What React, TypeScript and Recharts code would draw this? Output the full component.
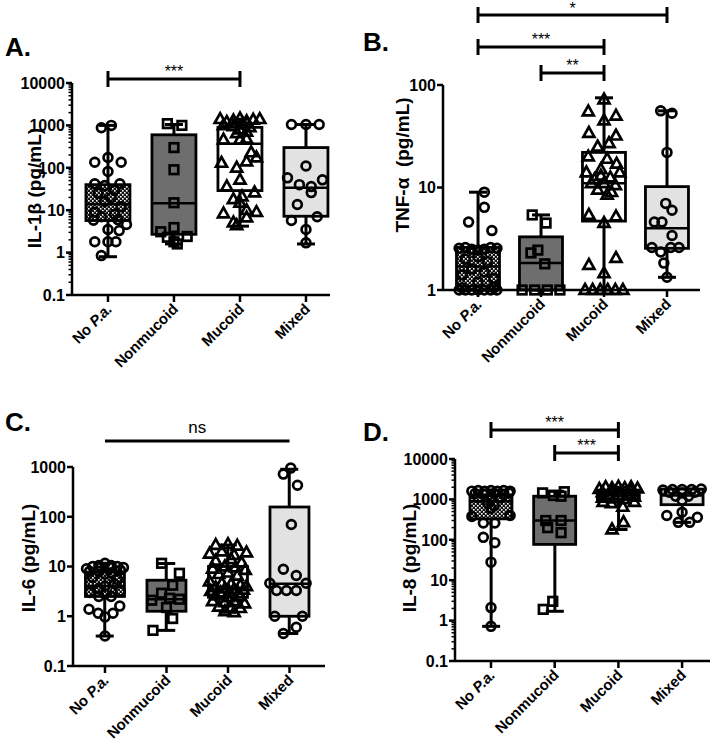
import React from 'react';
import { ComposedChart, Bar, Scatter, XAxis, YAxis, ReferenceLine } from 'recharts';

const FONT = '"Liberation Sans", Arial, Helvetica, sans-serif';

const groups = ['No P.a.', 'Nonmucoid', 'Mucoid', 'Mixed'];

// A. IL-1β (pg/mL)
const il1bMin = [0.8, 1.6, 4.2, 1.6];
const il1bQ1 = [5.7, 2.7, 29, 7.2];
const il1bMedian = [14, 14.5, 370, 34];
const il1bQ3 = [40, 600, 900, 300];
const il1bMax = [1000, 1050, 1400, 1050];
// [offset within category, value]
const il1bNoPa = [[0.05, 1000], [-0.1, 880], [-0.2, 135], [0, 175], [0.2, 135], [0, 82], [-0.2, 42], [0.18, 42], [-0.05, 38], [0.1, 30], [-0.15, 25], [0.05, 20], [-0.05, 16], [0.2, 12], [-0.2, 9], [0.1, 8], [-0.1, 7], [0.15, 6], [-0.22, 5.8], [0.28, 4.6], [0.17, 3.3], [0, 3.5], [-0.2, 1.8], [0, 1.8], [0.12, 1.8], [-0.1, 0.85]];
const il1bNonmucoid = [[-0.1, 1100], [0.12, 1000], [0, 300], [0, 90], [0, 15], [0, 3.9], [-0.2, 3.1], [0.2, 2.4], [-0.1, 2.3], [0, 1.8], [0.05, 1.6]];
const il1bMucoid = [[-0.3, 1400], [-0.2, 1200], [-0.1, 1300], [0, 1450], [0.1, 1250], [0.2, 1350], [0.3, 1400], [-0.25, 1000], [-0.1, 950], [0.05, 1050], [0.15, 900], [0, 800], [-0.05, 650], [0.1, 700], [-0.25, 460], [0, 460], [0.1, 480], [-0.05, 100], [0.17, 230], [0.25, 175], [0.1, 140], [-0.28, 130], [0, 52], [-0.2, 36], [0.22, 26], [-0.1, 18], [0.03, 21], [0, 15], [0.1, 10], [0.25, 9], [-0.25, 8.3], [-0.1, 5.1], [0.1, 6.7], [-0.05, 4.4]];
const il1bMixed = [[-0.22, 1050], [0, 1050], [0.2, 1050], [0, 110], [-0.28, 58], [-0.1, 40], [0.08, 36], [0.25, 52], [0.08, 26], [-0.13, 13.6], [-0.22, 5.7], [0.17, 7], [0, 3.5], [0, 1.7]];

// B. TNF-α (pg/mL)
const tnfMin = [1, 1, 1, 1.33];
const tnfQ1 = [1, 1, 4.7, 2.55];
const tnfMedian = [1.7, 1.83, 11, 4.0];
const tnfQ3 = [2.6, 3.3, 22, 10.2];
const tnfMax = [9, 5.4, 75, 56];
const tnfNoPa = [[0.1, 9], [0.1, 6.4], [-0.15, 4.6], [0.22, 3.8], [-0.3, 2.55], [-0.2, 2.6], [-0.1, 2.5], [0, 2.45], [0.1, 2.5], [0.2, 2.6], [0.3, 2.55], [-0.2, 2], [0, 2.1], [0.15, 1.9], [-0.1, 1.6], [0.1, 1.5], [-0.25, 1.4], [0.25, 1.3], [0, 1.2], [-0.3, 1], [-0.2, 1], [-0.1, 1], [0, 1], [0.1, 1], [0.2, 1], [0.3, 1], [-0.25, 1.05], [0.25, 1.05]];
const tnfNonmucoid = [[-0.14, 5.4], [0.08, 4.5], [-0.16, 2.3], [-0.05, 2.45], [0.06, 1.8], [-0.3, 1], [-0.1, 1], [0.1, 1], [0.3, 1]];
const tnfMucoid = [[-0.25, 55], [0, 72], [0.19, 50], [0, 45], [-0.24, 34], [0.19, 32], [-0.1, 25], [0.08, 27], [-0.25, 20], [0.05, 19], [0.2, 17], [-0.28, 14], [-0.05, 15], [0.25, 14], [-0.15, 12], [0.1, 12.5], [-0.2, 11], [0, 11], [0.18, 10.5], [-0.1, 9.5], [0.12, 9], [0.05, 8.5], [-0.05, 13], [-0.24, 5.4], [0.19, 5.2], [0, 4.5], [-0.24, 1.75], [0.19, 2.05], [0, 1.45], [-0.3, 1], [-0.18, 1], [-0.06, 1], [0.06, 1], [0.18, 1], [0.3, 1]];
const tnfMixed = [[-0.1, 56], [0.08, 53], [0, 22], [-0.02, 7], [0.08, 6], [-0.2, 4.6], [-0.08, 4.6], [0.08, 3.4], [-0.24, 2.6], [-0.1, 2.35], [0.06, 2.6], [0.19, 2.6], [-0.05, 1.83], [0, 1.33]];

// C. IL-6 (pg/mL)
const il6Min = [0.4, 0.52, 1.2, 0.45];
const il6Q1 = [2.5, 1.26, 2.4, 1.0];
const il6Median = [4, 2.2, 3.5, 4.5];
const il6Q3 = [7.7, 5.3, 10, 157];
const il6Max = [11.6, 11.5, 27, 900];
const il6NoPa = [[-0.3, 9], [-0.2, 10], [-0.1, 10.5], [0, 11.6], [0.1, 10.5], [0.2, 10], [0.3, 9.5], [-0.25, 8], [0.25, 8.5], [-0.1, 8], [0.1, 7.5], [0, 7], [-0.2, 6], [0.2, 5.5], [0, 4], [-0.1, 3.6], [0.15, 4.5], [-0.25, 3], [0.25, 3.2], [0, 2.8], [-0.1, 2.5], [0.1, 2.5], [-0.26, 1.38], [-0.11, 1.15], [0, 0.97], [0.13, 1.15], [0.24, 1.6], [0, 0.4]];
const il6Nonmucoid = [[-0.08, 11.6], [0.21, 7.3], [0.1, 4.2], [-0.08, 2.9], [-0.24, 2.1], [0.21, 2.2], [0.05, 2.3], [0, 1.5], [0.1, 0.9], [-0.22, 0.52]];
const il6Mucoid = [[-0.2, 27], [0, 28], [0.15, 26], [-0.3, 18], [0.3, 19], [-0.1, 20], [0.1, 17], [-0.2, 13], [0.05, 14], [0.22, 12], [-0.05, 10], [0.12, 9.5], [-0.25, 9], [0.28, 8.5], [-0.15, 7], [0, 7.5], [0.15, 6.5], [-0.3, 5], [-0.1, 4.6], [0.05, 4.4], [0.2, 4.2], [0.3, 4], [-0.2, 3.8], [-0.05, 3.6], [0.1, 3.5], [0.25, 3.4], [-0.28, 3.2], [-0.12, 3], [0.02, 3.1], [0.17, 2.9], [-0.2, 2.6], [0, 2.4], [0.2, 2.5], [-0.25, 2], [-0.05, 1.9], [0.1, 2], [0.27, 1.8], [-0.15, 1.55], [0.05, 1.5], [0.2, 1.45], [-0.05, 1.25], [0.1, 1.2]];
const il6Mixed = [[0.02, 950], [-0.1, 720], [0.13, 430], [0.03, 70], [-0.1, 8.8], [0.11, 6.6], [-0.21, 3.3], [-0.05, 3.3], [0.11, 3.3], [0.27, 4.6], [-0.32, 4.6], [-0.24, 1.0], [0.21, 1.0], [0.11, 0.6], [-0.1, 0.45]];

// D. IL-8 (pg/mL)
const il8Min = [0.72, 1.7, 180, 270];
const il8Q1 = [330, 77, 1000, 740];
const il8Median = [900, 300, 1400, 1250];
const il8Q3 = [1300, 1200, 1700, 1800];
const il8Max = [1700, 1600, 2000, 1800];
const il8NoPa = [[-0.3, 1600], [-0.2, 1650], [-0.1, 1600], [0, 1650], [0.1, 1600], [0.2, 1650], [0.3, 1600], [-0.25, 1400], [-0.1, 1350], [0.05, 1400], [0.2, 1350], [0.28, 1450], [-0.2, 1100], [0, 1000], [0.15, 1100], [-0.05, 800], [0.05, 700], [0, 600], [-0.3, 380], [0.3, 400], [-0.12, 260], [0.06, 260], [-0.12, 115], [0.06, 85], [0, 28], [0, 2.1], [0, 0.72]];
const il8Nonmucoid = [[-0.19, 1450], [-0.02, 1250], [0.15, 1550], [0.1, 1200], [-0.14, 300], [0.1, 300], [-0.11, 200], [0.1, 150], [-0.18, 1.9], [-0.03, 3.0]];
const il8Mucoid = [[-0.3, 1800], [-0.2, 2000], [-0.1, 1900], [0, 2050], [0.1, 1900], [0.2, 2000], [0.3, 1850], [-0.25, 1500], [-0.1, 1600], [0.05, 1500], [0.2, 1550], [-0.15, 1300], [0, 1250], [0.15, 1300], [-0.25, 1100], [0.25, 1150], [-0.05, 1050], [0.1, 1000], [-0.24, 860], [-0.11, 800], [0.25, 860], [0.07, 650], [-0.1, 180], [0.08, 270]];
const il8Mixed = [[-0.3, 1700], [-0.15, 1750], [0, 1750], [0.15, 1750], [0.3, 1800], [-0.2, 1500], [0, 1450], [0.2, 1500], [-0.1, 1200], [0.1, 1200], [0, 950], [-0.24, 400], [-0.06, 270], [0.12, 270], [0.24, 360], [0, 480]];

const minorSteps = [2, 3, 4, 5, 6, 7, 8, 9];
const withMinors = (majors: number[]) => {
  const out: number[] = [];
  majors.forEach((m, i) => {
    out.push(m);
    if (i < majors.length - 1) minorSteps.forEach((s) => out.push(m * s));
  });
  return out;
};

const majorsA = [0.1, 1, 10, 100, 1000, 10000];
const majorsB = [1, 10, 100];
const majorsC = [0.1, 1, 10, 100, 1000];
const majorsD = [0.1, 1, 10, 100, 1000, 10000];

const boxFills = ['url(#checker)', '#6e6e6e', '#ffffff', '#e2e2e2'];

const panels = [
  {
    key: 'A', letter: 'A.', title: 'IL-1β (pg/mL)',
    min: il1bMin, q1: il1bQ1, med: il1bMedian, q3: il1bQ3, max: il1bMax,
    points: [il1bNoPa, il1bNonmucoid, il1bMucoid, il1bMixed],
    majors: majorsA, ticks: withMinors(majorsA), domain: [0.1, 10000],
    sig: [{ from: 0, to: 2, text: '***', lift: 4, caps: true, gap: 2, size: 16 }],
    L: { left: 0, top: 0, width: 357, height: 373, plotLeft: 72, plotRight: 330, plotTop: 83, plotBottom: 295, xMin: -0.545, xMax: 3.364, boxW: 44, titleX: 35, titleY: 188, letterX: 5, letterY: 58 },
  },
  {
    key: 'B', letter: 'B.', title: 'TNF-α\u00a0\u00a0(pg/mL)',
    min: tnfMin, q1: tnfQ1, med: tnfMedian, q3: tnfQ3, max: tnfMax,
    points: [tnfNoPa, tnfNonmucoid, tnfMucoid, tnfMixed],
    majors: majorsB, ticks: majorsB, domain: [1, 100],
    sig: [
      { from: 0, to: 3, text: '*', lift: 70, caps: true, gap: 1, size: 16 },
      { from: 0, to: 2, text: '***', lift: 38, caps: true, gap: 2, size: 16 },
      { from: 1, to: 2, text: '**', lift: 12, caps: true, gap: 2, size: 16 },
    ],
    L: { left: 357, top: 0, width: 358, height: 373, plotLeft: 86, plotRight: 343, plotTop: 85, plotBottom: 290, xMin: -0.556, xMax: 3.524, boxW: 43, titleX: 403 - 357, titleY: 165, letterX: 6, letterY: 53 },
  },
  {
    key: 'C', letter: 'C.', title: 'IL-6 (pg/mL)',
    min: il6Min, q1: il6Q1, med: il6Median, q3: il6Q3, max: il6Max,
    points: [il6NoPa, il6Nonmucoid, il6Mucoid, il6Mixed],
    majors: majorsC, ticks: majorsC, domain: [0.1, 1000],
    sig: [{ from: 0, to: 3, text: 'ns', lift: 26, caps: false, gap: 8, size: 17 }],
    L: { left: 0, top: 373, width: 357, height: 373, plotLeft: 73, plotRight: 325, plotTop: 94, plotBottom: 293, xMin: -0.52, xMax: 3.577, boxW: 39, titleX: 29, titleY: 558 - 373, letterX: 5, letterY: 60 },
  },
  {
    key: 'D', letter: 'D.', title: 'IL-8 (pg/mL)',
    min: il8Min, q1: il8Q1, med: il8Median, q3: il8Q3, max: il8Max,
    points: [il8NoPa, il8Nonmucoid, il8Mucoid, il8Mixed],
    majors: majorsD, ticks: withMinors(majorsD), domain: [0.1, 10000],
    sig: [
      { from: 0, to: 2, text: '***', lift: 29, caps: true, gap: 2, size: 16 },
      { from: 1, to: 2, text: '***', lift: 6, caps: true, gap: 2, size: 16 },
    ],
    L: { left: 357, top: 373, width: 358, height: 373, plotLeft: 98, plotRight: 353, plotTop: 86, plotBottom: 288, xMin: -0.565, xMax: 3.438, boxW: 42, titleX: 410 - 357, titleY: 558 - 373, letterX: 6, letterY: 70 },
  },
];

const Marker = ({ cx, cy, kind }: any) => {
  if (cx == null || cy == null) return null;
  const st = { fill: 'none', stroke: '#000', strokeWidth: 2.7 };
  if (kind === 1) return <rect x={cx - 4.3} y={cy - 4.3} width={8.6} height={8.6} {...st} />;
  if (kind === 2) return <polygon points={`${cx},${cy - 6} ${cx - 5.5},${cy + 3.8} ${cx + 5.5},${cy + 3.8}`} {...st} strokeLinejoin="miter" />;
  return <circle cx={cx} cy={cy} r={4.4} {...st} />;
};

const XTick = ({ x, y, payload }: any) => {
  const name = groups[payload.value];
  if (name == null) return null;
  const ax = x + 5;
  const ay = y + 15;
  return (
    <g>
      <line x1={x} x2={x} y1={y} y2={y + 7} stroke="#000" strokeWidth={2.5} />
      <text x={ax} y={ay} textAnchor="end" transform={`rotate(-45, ${ax}, ${ay})`} fontSize={15} fontWeight="bold" fontFamily={FONT} fill="#000">
        {name === 'No P.a.' ? (
          <>
            <tspan>No </tspan>
            <tspan fontStyle="italic">P.a.</tspan>
          </>
        ) : name}
      </text>
    </g>
  );
};

const makeYTick = (majors: number[]) => ({ x, y, payload }: any) => {
  const major = majors.includes(payload.value);
  return (
    <g>
      <line x1={x - (major ? 6 : 3.5)} x2={x} y1={y} y2={y} stroke="#000" strokeWidth={major ? 2.5 : 1.5} />
      {major && (
        <text x={x - 7} y={y} dy="0.36em" textAnchor="end" fontSize={16} fontWeight="bold" fontFamily={FONT} fill="#000">
          {String(payload.value)}
        </text>
      )}
    </g>
  );
};

function Panel({ p }: any) {
  const L = p.L;
  const rows = groups.map((g, i) => ({ x: i, name: g, whisker: [p.min[i], p.max[i]], box: [p.q1[i], p.q3[i]] }));
  const medians = groups.map((g, i) => ({ x: i, y: p.med[i] }));
  const pts = p.points.map((list: number[][], gi: number) => list.map(([dx, v]) => ({ x: gi + dx, y: v })));
  const capW = 18;
  const Whisker = (sp: any) => {
    const cx = sp.x + (sp.width || 0) / 2;
    return (
      <g>
        <line x1={cx} x2={cx} y1={sp.y} y2={sp.y + sp.height} stroke="#000" strokeWidth={3} />
        <line x1={cx - capW / 2} x2={cx + capW / 2} y1={sp.y} y2={sp.y} stroke="#000" strokeWidth={3} />
        <line x1={cx - capW / 2} x2={cx + capW / 2} y1={sp.y + sp.height} y2={sp.y + sp.height} stroke="#000" strokeWidth={3} />
      </g>
    );
  };
  const Box = (sp: any) => {
    const cx = sp.x + (sp.width || 0) / 2;
    const top = Math.min(sp.y, sp.y + sp.height);
    const h = Math.abs(sp.height);
    return (
      <rect x={cx - L.boxW / 2} y={top} width={L.boxW} height={h} fill={boxFills[sp.index] ?? '#fff'} stroke="#000" strokeWidth={2.8} />
    );
  };
  const Median = (sp: any) => (
    <line x1={sp.cx - L.boxW / 2} x2={sp.cx + L.boxW / 2} y1={sp.cy} y2={sp.cy} stroke="#000" strokeWidth={2.5} />
  );
  const SigBar = (lp: any) => {
    const s = lp.s;
    const y = lp.y1 - s.lift;
    return (
      <g>
        <line x1={lp.x1} x2={lp.x2} y1={y} y2={y} stroke="#000" strokeWidth={3} />
        {s.caps && <line x1={lp.x1} x2={lp.x1} y1={y - 8} y2={y + 8} stroke="#000" strokeWidth={3} />}
        {s.caps && <line x1={lp.x2} x2={lp.x2} y1={y - 8} y2={y + 8} stroke="#000" strokeWidth={3} />}
        <text x={(lp.x1 + lp.x2) / 2} y={y - s.gap} textAnchor="middle" fontSize={s.size} fontFamily={FONT} fill="#000">
          {s.text}
        </text>
      </g>
    );
  };
  const titleBase = L.titleX + 6;
  const xAxisCommon = {
    type: 'number' as const,
    dataKey: 'x',
    domain: [L.xMin, L.xMax],
    ticks: [0, 1, 2, 3],
    interval: 0 as const,
  };
  return (
    <div style={{ position: 'absolute', left: L.left, top: L.top, width: L.width, height: L.height }}>
      <ComposedChart
        width={L.width}
        height={L.height}
        data={rows}
        margin={{ top: L.plotTop, right: L.width - L.plotRight, bottom: 0, left: 0 }}
      >
        <defs>
          <pattern id="checker" patternUnits="userSpaceOnUse" width={4} height={4}>
            <rect width={4} height={4} fill="#111" />
            <rect x={0} y={0} width={1.6} height={1.6} fill="#fff" />
            <rect x={2} y={2} width={1.6} height={1.6} fill="#fff" />
          </pattern>
        </defs>
        <XAxis
          {...xAxisCommon}
          tick={<XTick />}
          tickLine={false}
          tickSize={0}
          tickMargin={0}
          axisLine={{ stroke: '#000', strokeWidth: 2.5 }}
          height={L.height - L.plotBottom}
        />
        <XAxis {...xAxisCommon} xAxisId="w" hide />
        <YAxis
          type="number"
          dataKey="y"
          scale="log"
          domain={p.domain}
          ticks={p.ticks}
          interval={0}
          width={L.plotLeft}
          tick={makeYTick(p.majors)}
          tickLine={false}
          tickSize={0}
          tickMargin={0}
          axisLine={{ stroke: '#000', strokeWidth: 2.5 }}
          label={{
            content: () => (
              <text
                x={titleBase}
                y={L.titleY}
                transform={`rotate(-90, ${titleBase}, ${L.titleY})`}
                textAnchor="middle"
                fontSize={19}
                fontWeight="bold"
                fontFamily={FONT}
                fill="#000"
              >
                {p.title}
              </text>
            ),
          }}
        />
        <Bar xAxisId="w" dataKey="whisker" barSize={L.boxW} shape={Whisker} isAnimationActive={false} />
        <Bar dataKey="box" barSize={L.boxW} shape={Box} isAnimationActive={false} />
        <Scatter data={medians} dataKey="y" shape={Median} isAnimationActive={false} />
        {pts.map((d: any[], gi: number) => (
          <Scatter
            key={gi}
            data={d}
            dataKey="y"
            shape={(sp: any) => <Marker cx={sp.cx} cy={sp.cy} kind={gi === 3 ? 0 : gi} />}
            isAnimationActive={false}
          />
        ))}
        {p.sig.map((s: any, k: number) => (
          <ReferenceLine
            key={k}
            segment={[{ x: s.from, y: p.domain[1] }, { x: s.to, y: p.domain[1] }]}
            ifOverflow="visible"
            shape={(lp: any) => <SigBar {...lp} s={s} />}
          />
        ))}
      </ComposedChart>
      <div
        style={{
          position: 'absolute',
          left: L.letterX,
          top: L.letterY - 24,
          fontFamily: FONT,
          fontWeight: 'bold',
          fontSize: 26,
          lineHeight: '26px',
          color: '#000',
        }}
      >
        {p.letter}
      </div>
    </div>
  );
}

export default function App() {
  return (
    <div style={{ position: 'absolute', left: 0, top: 0, width: 715, height: 746, background: '#fff', overflow: 'hidden' }}>
      {panels.map((p) => (
        <Panel key={p.key} p={p} />
      ))}
    </div>
  );
}
